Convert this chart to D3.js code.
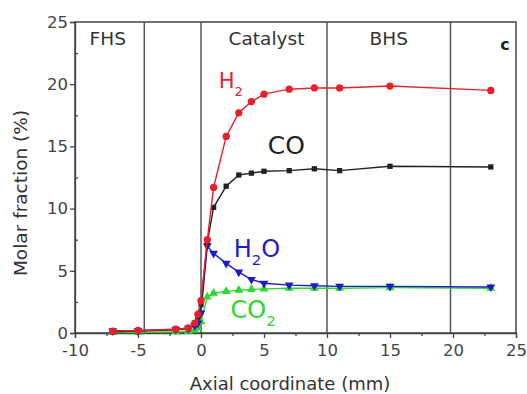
<!DOCTYPE html>
<html>
<head>
<meta charset="utf-8">
<script src="https://cdn.jsdelivr.net/npm/d3@7"></script>
<style>
  body { margin: 0; background: #fff; }
  text { font-family: "DejaVu Sans", sans-serif; }
</style>
</head>
<body>
<script>

// axial positions (mm) shared by all species
const axialPos = [-7, -5, -2, -1, -0.5, -0.25, 0, 0.5, 1, 2, 3, 4, 5, 7, 9, 11, 15, 23]
const h2  = [0.15, 0.2, 0.3, 0.4, 0.8, 1.5, 2.6, 7.5, 11.7, 15.8, 17.7, 18.6, 19.2, 19.6, 19.7, 19.7, 19.85, 19.5]
const co  = [0.1, 0.15, 0.25, 0.35, 0.7, 1.3, 2.3, 7.3, 10.1, 11.8, 12.7, 12.85, 13.0, 13.05, 13.2, 13.05, 13.4, 13.35]
const h2o = [0.18, 0.18, 0.3, 0.38, 0.6, 0.8, 1.6, 7.0, 6.4, 5.6, 4.9, 4.3, 4.0, 3.85, 3.8, 3.75, 3.75, 3.7]
const co2 = [0.05, 0.05, 0.1, 0.15, 0.25, 0.4, 0.9, 2.9, 3.2, 3.35, 3.45, 3.5, 3.55, 3.6, 3.6, 3.6, 3.65, 3.6]

const zoneBounds = [-4.5, 0, 10, 19.8]
const zoneNames = ['FHS', 'Catalyst', 'BHS']
const xTicks = [-10, -5, 0, 5, 10, 15, 20, 25]
const yTicks = [0, 5, 10, 15, 20, 25]

const W = 527, H = 394
const svg = d3.select('body').append('svg')
    .attr('width', W)
    .attr('height', H)

const x = d3.scaleLinear().domain([-10, 25]).range([75, 516])
const y = d3.scaleLinear().domain([0, 25]).range([333, 22])

// zone dividers
svg.append('g')
    .selectAll('line')
    .data(zoneBounds)
    .join('line')
    .attr('x1', d => x(d)).attr('x2', d => x(d))
    .attr('y1', y(25)).attr('y2', y(0))
    .attr('stroke', '#555')
    .attr('stroke-width', 1.5)

// frame
svg.append('rect')
    .attr('x', x(-10)).attr('y', y(25))
    .attr('width', x(25) - x(-10)).attr('height', y(0) - y(25))
    .attr('fill', 'none')
    .attr('stroke', '#444')
    .attr('stroke-width', 1.5)

// axes
const xAxis = svg.append('g')
    .attr('transform', `translate(0,${y(0)})`)
    .call(d3.axisBottom(x).tickValues(xTicks).tickSize(5).tickPadding(6).tickFormat(d => String(d)))
svg.append('g')
    .attr('transform', `translate(0,${y(0)})`)
    .call(d3.axisBottom(x).tickValues(d3.range(-7.5, 25, 5)).tickSize(3).tickFormat(''))
    .call(g => g.select('.domain').remove())
const yAxis = svg.append('g')
    .attr('transform', `translate(${x(-10)},0)`)
    .call(d3.axisLeft(y).tickValues(yTicks).tickSize(5).tickPadding(2))
svg.append('g')
    .attr('transform', `translate(${x(-10)},0)`)
    .call(d3.axisLeft(y).tickValues(d3.range(2.5, 25, 5)).tickSize(-3).tickFormat(''))
    .call(g => g.select('.domain').remove())

svg.selectAll('.domain, .tick line')
    .attr('stroke', '#444')
    .attr('stroke-width', 1.3)
xAxis.selectAll('text').attr('font-size', 16.5).attr('fill', '#444')
yAxis.selectAll('text').attr('font-size', 16.5).attr('fill', '#444')

svg.append('text')
    .attr('x', 290).attr('y', 390)
    .attr('text-anchor', 'middle')
    .attr('font-size', 18)
    .attr('fill', '#333')
    .text('Axial coordinate (mm)')

svg.append('text')
    .attr('transform', 'translate(27,193) rotate(-90)')
    .attr('text-anchor', 'middle')
    .attr('font-size', 18.5)
    .attr('fill', '#333')
    .text('Molar fraction (%)')

// zone names
const zoneLabelX = [-7.4, 5.2, 14.9]
svg.append('g')
    .selectAll('text')
    .data(zoneNames)
    .join('text')
    .attr('x', (d, i) => x(zoneLabelX[i]))
    .attr('y', 45)
    .attr('text-anchor', 'middle')
    .attr('font-size', 18.5)
    .attr('fill', '#333')
    .text(d => d)

svg.append('text')
    .attr('x', 505).attr('y', 50)
    .attr('text-anchor', 'middle')
    .attr('font-size', 16)
    .attr('font-weight', 'bold')
    .attr('fill', '#222')
    .text('c')

// series
const series = [
    { name: 'CO2', vals: co2, color: '#2ed62e', shape: d3.symbolTriangle, size: 34, rot: 0 },
    { name: 'H2O', vals: h2o, color: '#1d1dc8', shape: d3.symbolTriangle, size: 34, rot: 180 },
    { name: 'CO',  vals: co,  color: '#222', shape: d3.symbolSquare, size: 28, rot: 0 },
    { name: 'H2',  vals: h2,  color: '#e8202a', shape: d3.symbolCircle, size: 42, rot: 0 }
]

const line = d3.line()
    .x(d => x(d[0]))
    .y(d => y(d[1]))

series.forEach(s => {
    const pts = axialPos.map((p, i) => [p, s.vals[i]])
    svg.append('path')
        .datum(pts)
        .attr('fill', 'none')
        .attr('stroke', s.color)
        .attr('stroke-width', 1.4)
        .attr('d', line)
    svg.append('g')
        .selectAll('path')
        .data(pts)
        .join('path')
        .attr('transform', d => `translate(${x(d[0])},${y(d[1])}) rotate(${s.rot})`)
        .attr('d', d3.symbol().type(s.shape).size(s.size))
        .attr('fill', s.color)
})

// species labels
function chemLabel(xv, yv, size, base, sub, tail, color) {
    const t = svg.append('text')
        .attr('x', x(xv)).attr('y', y(yv))
        .attr('font-size', size)
        .attr('fill', color)
    t.append('tspan').text(base)
    if (sub) {
        t.append('tspan').attr('dy', 8).attr('font-size', size * 0.62).text(sub)
        if (tail) t.append('tspan').attr('dy', -8).text(tail)
    }
}
chemLabel(1.4, 19.7, 21, 'H', '2', '', '#e8202a')
chemLabel(5.3, 14.4, 25, 'CO', '', '', '#222')
chemLabel(2.6, 6.1, 24, 'H', '2', 'O', '#1d1dc8')
chemLabel(2.35, 1.2, 24, 'CO', '2', '', '#2ed62e')

</script>
</body>
</html>
